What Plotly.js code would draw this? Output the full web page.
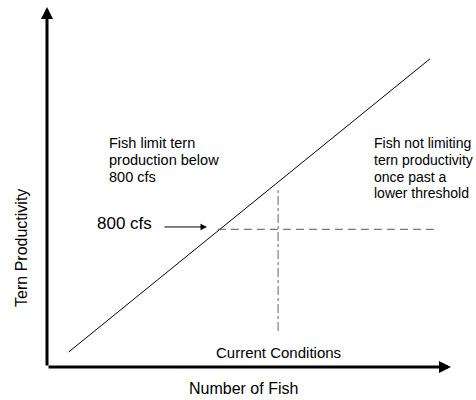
<!DOCTYPE html>
<html>
<head>
<meta charset="utf-8">
<script src="https://cdn.plot.ly/plotly-3.0.1.min.js"></script>
<style>html,body{margin:0;padding:0;background:#fff;}#chart{width:476px;height:400px;}</style>
</head>
<body>
<div id="chart"></div>
<script>
// Conceptual diagram values (axis units 0-100)
var relationX = [5.4, 94.8];
var relationY = [4.2, 85.6];
var thresholdX = [42.3, 96.3];
var thresholdY = [38.25, 38.25];
var currentX = [57.2, 57.2];
var currentY = [10, 50];
var thresholdArrowX = [28.7, 39.6];
var thresholdArrowY = [38.9, 38.9];

var xTitle = "Number of Fish";
var yTitle = "Tern Productivity";
var leftNote = ["Fish limit tern", "production below", "800 cfs"];
var rightNote = ["Fish not limiting", "tern productivity", "once past a", "lower threshold"];
var noteLineY = [62.1, 57.5, 52.9, 48.3];
var thresholdLabel = "800 cfs";
var currentLabel = "Current Conditions";

var FONT = "Arial, 'Liberation Sans', sans-serif";

var traces = [
  {x: relationX, y: relationY, mode: "lines", line: {color: "#000", width: 1}, hoverinfo: "skip"},
  {x: thresholdX, y: thresholdY, mode: "lines", line: {color: "#555", width: 1, dash: "8px,5px"}, hoverinfo: "skip"},
  {x: currentX, y: currentY, mode: "lines", line: {color: "#666", width: 1, dash: "dashdot"}, hoverinfo: "skip"}
];

var annotations = [
  // y axis arrow
  {x: 0, y: 100, ax: 0, ay: 0, xref: "x", yref: "y", axref: "x", ayref: "y", text: "", showarrow: true,
   arrowhead: 2, arrowsize: 0.8, arrowwidth: 3, arrowcolor: "#000", standoff: 0, startstandoff: 0},
  // x axis arrow
  {x: 100, y: 0, ax: 0, ay: 0, xref: "x", yref: "y", axref: "x", ayref: "y", text: "", showarrow: true,
   arrowhead: 2, arrowsize: 0.8, arrowwidth: 3, arrowcolor: "#000", standoff: 0, startstandoff: 0},
  // 800 cfs arrow
  {x: thresholdArrowX[1], y: thresholdArrowY[1], ax: thresholdArrowX[0], ay: thresholdArrowY[0],
   xref: "x", yref: "y", axref: "x", ayref: "y", text: "", showarrow: true,
   arrowhead: 2, arrowsize: 1.3, arrowwidth: 1, arrowcolor: "#000", standoff: 0},
  {x: thresholdArrowX[0], y: thresholdArrowY[0], xref: "x", yref: "y", text: thresholdLabel, showarrow: false,
   xanchor: "right", yanchor: "middle", xshift: -9, yshift: 3, font: {family: FONT, size: 17, color: "#000"}},
  {x: 57.2, y: 4, xref: "x", yref: "y", text: currentLabel, showarrow: false,
   xanchor: "center", yanchor: "middle", font: {family: FONT, size: 15, color: "#000"}},
  {x: 0.486, y: -0.061, xref: "paper", yref: "paper", text: xTitle, showarrow: false,
   xanchor: "center", yanchor: "middle", font: {family: FONT, size: 16, color: "#000"}},
  {x: -0.065, y: 0.33, xref: "paper", yref: "paper", text: yTitle, showarrow: false, textangle: -90,
   xanchor: "center", yanchor: "middle", font: {family: FONT, size: 16, color: "#000"}}
];

leftNote.forEach(function (t, i) {
  annotations.push({x: 14.9, y: noteLineY[i], xref: "x", yref: "y", text: t, showarrow: false,
    xanchor: "left", yanchor: "middle", font: {family: FONT, size: 14.5, color: "#000"}});
});
rightNote.forEach(function (t, i) {
  annotations.push({x: 80.5, y: noteLineY[i], xref: "x", yref: "y", text: t, showarrow: false,
    xanchor: "left", yanchor: "middle", font: {family: FONT, size: 14, color: "#000"}});
});

var axisCommon = {showline: false, showgrid: false, zeroline: false, showticklabels: false, ticks: "", fixedrange: true};

var layout = {
  width: 476, height: 400,
  margin: {l: 47, r: 25, t: 7, b: 33, pad: 0},
  paper_bgcolor: "#fff", plot_bgcolor: "#fff",
  showlegend: false,
  xaxis: Object.assign({range: [0, 100]}, axisCommon),
  yaxis: Object.assign({range: [0, 100]}, axisCommon),
  annotations: annotations,
  font: {family: FONT, color: "#000"}
};

Plotly.newPlot("chart", traces, layout, {displayModeBar: false, staticPlot: true});
</script>
</body>
</html>
